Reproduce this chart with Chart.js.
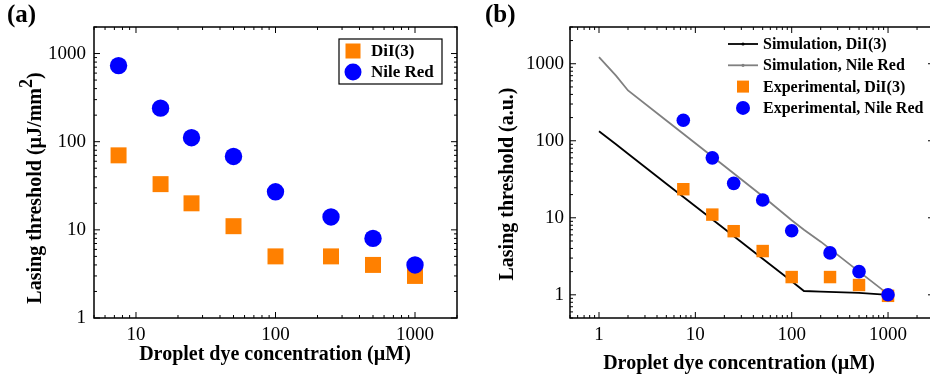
<!DOCTYPE html>
<html>
<head>
<meta charset="utf-8">
<script src="https://cdn.jsdelivr.net/npm/chart.js@4"></script>
<style>
  html, body { margin: 0; padding: 0; background: #fff; overflow: hidden; }
  .wrap { position: relative; width: 930px; height: 382px; overflow: hidden; }
  #chartA { position: absolute; left: 0; top: 0; }
  #chartB { position: absolute; left: 465px; top: 0; }
</style>
</head>
<body>
<div class="wrap">
  <canvas id="chartA" width="465" height="382"></canvas>
  <canvas id="chartB" width="474" height="382"></canvas>
</div>
<script>
// concentrations (uM)
const conc = [7.5, 15, 25, 50, 100, 250, 500, 1000];

// panel (a): thresholds in uJ/mm^2
const diiA = [70, 33, 20, 11, 5, 5, 4, 3];
const nileA = [730, 240, 111, 68, 27, 14, 8, 4];

// panel (b): normalised thresholds (a.u.)
const diiB = [23.5, 11, 6.7, 3.7, 1.7, 1.7, 1.34, 0.97];
const nileB = [185, 60, 28, 17, 6.8, 3.5, 2.0, 1.0];

// simulation curves
const simConc = [1, 1.5, 2, 5, 10, 20, 50, 100, 134, 200, 500, 1000];
const simDii = [133, 90, 68, 27.7, 14.1, 7.2, 2.94, 1.5, 1.12, 1.1, 1.06, 1.0];
const simNile = [1220, 700, 450, 183, 93, 47, 19, 9.3, 7.0, 4.9, 2.0, 1.02];

const xTicksA = [10, 100, 1000];
const yTicksA = [1, 10, 100, 1000];
const xTicksB = [1, 10, 100, 1000];
const yTicksB = [1, 10, 100, 1000];

const ORANGE = "#ff8000";
const BLUE = "#0000ff";
const SERIF = "'Liberation Serif', 'DejaVu Serif', serif";

const pts = (xs, ys) => xs.map((x, i) => ({x: x, y: ys[i]}));

// frame + inward log ticks on all four sides
const frameTicks = {
  id: "frameTicks",
  afterDraw(chart) {
    const ctx = chart.ctx;
    const a = chart.chartArea;
    const xs = chart.scales.x, ys = chart.scales.y;
    ctx.save();
    ctx.strokeStyle = "#000";
    ctx.lineWidth = 1.5;
    ctx.strokeRect(a.left, a.top, a.right - a.left, a.bottom - a.top);
    ctx.lineWidth = 1;
    const each = (sc, fn) => {
      for (let d = Math.floor(Math.log10(sc.min)); d <= Math.ceil(Math.log10(sc.max)); d++) {
        for (let m = 1; m <= 9; m++) {
          const v = m * Math.pow(10, d);
          if (v < sc.min || v > sc.max) continue;
          fn(sc.getPixelForValue(v), m === 1 ? 6 : 3);
        }
      }
    };
    ctx.beginPath();
    each(xs, (p, len) => {
      ctx.moveTo(p, a.bottom); ctx.lineTo(p, a.bottom - len);
      ctx.moveTo(p, a.top); ctx.lineTo(p, a.top + len);
    });
    each(ys, (p, len) => {
      ctx.moveTo(a.left, p); ctx.lineTo(a.left + len, p);
      ctx.moveTo(a.right, p); ctx.lineTo(a.right - len, p);
    });
    ctx.stroke();
    ctx.restore();
  }
};

// titles, panel letter, legend
const decor = {
  id: "decor",
  afterDraw(chart, args, o) {
    const ctx = chart.ctx;
    const T = "bold 20px " + SERIF;
    ctx.save();
    ctx.fillStyle = "#000";
    ctx.textBaseline = "middle";

    ctx.font = "bold 25px " + SERIF;
    ctx.textAlign = "left";
    ctx.fillText(o.panel, o.panelX, 16);

    ctx.font = T;
    ctx.textAlign = "center";
    ctx.fillText("Droplet dye concentration (\u00b5M)", o.xTitleX, o.xTitleY);

    ctx.translate(o.yTitleX, o.yTitleY);
    ctx.rotate(-Math.PI / 2);
    if (o.sup) {
      const main = o.yTitle, tail = ")";
      ctx.textAlign = "left";
      const w1 = ctx.measureText(main).width;
      ctx.font = "bold 18px " + SERIF;
      const w2 = ctx.measureText(o.sup).width;
      ctx.font = T;
      const w3 = ctx.measureText(tail).width;
      const x0 = -(w1 + w2 + w3) / 2;
      ctx.fillText(main, x0, 0);
      ctx.font = "bold 18px " + SERIF;
      ctx.fillText(o.sup, x0 + w1, -9);
      ctx.font = T;
      ctx.fillText(tail, x0 + w1 + w2, 0);
    } else {
      ctx.fillText(o.yTitle, 0, 0);
    }
    ctx.setTransform(1, 0, 0, 1, 0, 0);

    // legend
    const L = o.legend;
    if (L.box) {
      ctx.strokeStyle = "#000";
      ctx.lineWidth = 1.2;
      ctx.strokeRect(L.box[0], L.box[1], L.box[2], L.box[3]);
    }
    ctx.font = "bold " + L.size + "px " + SERIF;
    ctx.textAlign = "left";
    L.items.forEach((it, i) => {
      const ds = chart.data.datasets[it.ds];
      const y = L.y + i * L.gap;
      const cx = L.x + L.sym / 2;
      if (ds.showLine) {
        ctx.strokeStyle = ds.borderColor;
        ctx.lineWidth = ds.borderWidth;
        ctx.beginPath();
        ctx.moveTo(L.x, y); ctx.lineTo(L.x + L.sym, y);
        ctx.stroke();
        ctx.fillStyle = ds.borderColor;
        ctx.beginPath();
        ctx.arc(cx, y, 1.6, 0, Math.PI * 2);
        ctx.fill();
      } else if (ds.pointStyle === "rect") {
        ctx.fillStyle = ds.backgroundColor;
        ctx.fillRect(cx - L.sq / 2, y - L.sq / 2, L.sq, L.sq);
      } else {
        ctx.fillStyle = ds.backgroundColor;
        ctx.beginPath();
        ctx.arc(cx, y, L.dot, 0, Math.PI * 2);
        ctx.fill();
      }
      ctx.fillStyle = "#000";
      ctx.fillText(ds.label, L.x + L.sym + L.pad, y + 1);
    });
    ctx.restore();
  }
};

function logAxis(min, max, ticks, size, pad) {
  return {
    type: "logarithmic",
    min: min,
    max: max,
    afterBuildTicks: s => { s.ticks = ticks.map(v => ({value: v})); },
    afterFit: s => {
      if (s.isHorizontal()) s.height = size; else s.width = size;
      s.paddingLeft = s.paddingRight = s.paddingTop = s.paddingBottom = 0;
    },
    grid: {display: false, drawTicks: false, tickLength: 0},
    border: {display: false},
    ticks: {
      color: "#000",
      font: {family: SERIF, size: 19},
      padding: pad,
      autoSkip: false,
      maxRotation: 0,
      callback: v => String(v)
    }
  };
}

function baseOptions(xs, ys, padding, decorOpts) {
  return {
    responsive: false,
    animation: false,
    devicePixelRatio: 1,
    layout: {padding: padding, autoPadding: false},
    scales: {x: xs, y: ys},
    plugins: {
      legend: {display: false},
      tooltip: {enabled: false},
      decor: decorOpts
    }
  };
}

new Chart(document.getElementById("chartA"), {
  type: "scatter",
  data: {
    datasets: [
      {label: "Nile Red", data: pts(conc, nileA), pointStyle: "circle", pointRadius: 8.7,
       backgroundColor: BLUE, borderWidth: 0, order: 0},
      {label: "DiI(3)", data: pts(conc, diiA), pointStyle: "rect", pointRadius: 11.3,
       backgroundColor: ORANGE, borderWidth: 0, order: 1}
    ]
  },
  options: baseOptions(
    logAxis(5, 2000, xTicksA, 64, 6),
    logAxis(1, 2000, yTicksA, 94, 8),
    {top: 27, right: 8, left: 0, bottom: 0},
    {
      panel: "(a)", panelX: 7,
      xTitleX: 275, xTitleY: 355,
      yTitle: "Lasing threshold (\u00b5J/mm", sup: "2", yTitleX: 36, yTitleY: 188,
      legend: {box: [339, 39, 103, 45], x: 346, y: 51, gap: 21, sym: 14, pad: 11,
               sq: 15, dot: 8.5, size: 17,
               items: [{ds: 1}, {ds: 0}]}
    }
  ),
  plugins: [frameTicks, decor]
});

new Chart(document.getElementById("chartB"), {
  type: "scatter",
  data: {
    datasets: [
      {label: "Experimental, Nile Red", data: pts(conc, nileB), pointStyle: "circle", pointRadius: 6.8,
       backgroundColor: BLUE, borderWidth: 0, order: 0},
      {label: "Experimental, DiI(3)", data: pts(conc, diiB), pointStyle: "rect", pointRadius: 8.8,
       backgroundColor: ORANGE, borderWidth: 0, order: 1},
      {label: "Simulation, Nile Red", data: pts(simConc, simNile), showLine: true,
       borderColor: "#808080", backgroundColor: "#808080", borderWidth: 1.8,
       pointRadius: 0, tension: 0, order: 2},
      {label: "Simulation, DiI(3)", data: pts(simConc, simDii), showLine: true,
       borderColor: "#000", backgroundColor: "#000", borderWidth: 1.8,
       pointRadius: 0, tension: 0, order: 3}
    ]
  },
  options: baseOptions(
    logAxis(0.5, 3000, xTicksB, 64, 6),
    logAxis(0.5, 3000, yTicksB, 105, 6),
    {top: 27, right: 5, left: 0, bottom: 0},
    {
      panel: "(b)", panelX: 20,
      xTitleX: 274, xTitleY: 364,
      yTitle: "Lasing threshold (a.u.)", sup: null, yTitleX: 43, yTitleY: 184,
      legend: {box: null, x: 263, y: 44, gap: 21.3, sym: 30, pad: 5,
               sq: 12, dot: 7, size: 16,
               items: [{ds: 3}, {ds: 2}, {ds: 1}, {ds: 0}]}
    }
  ),
  plugins: [frameTicks, decor]
});
</script>
</body>
</html>
